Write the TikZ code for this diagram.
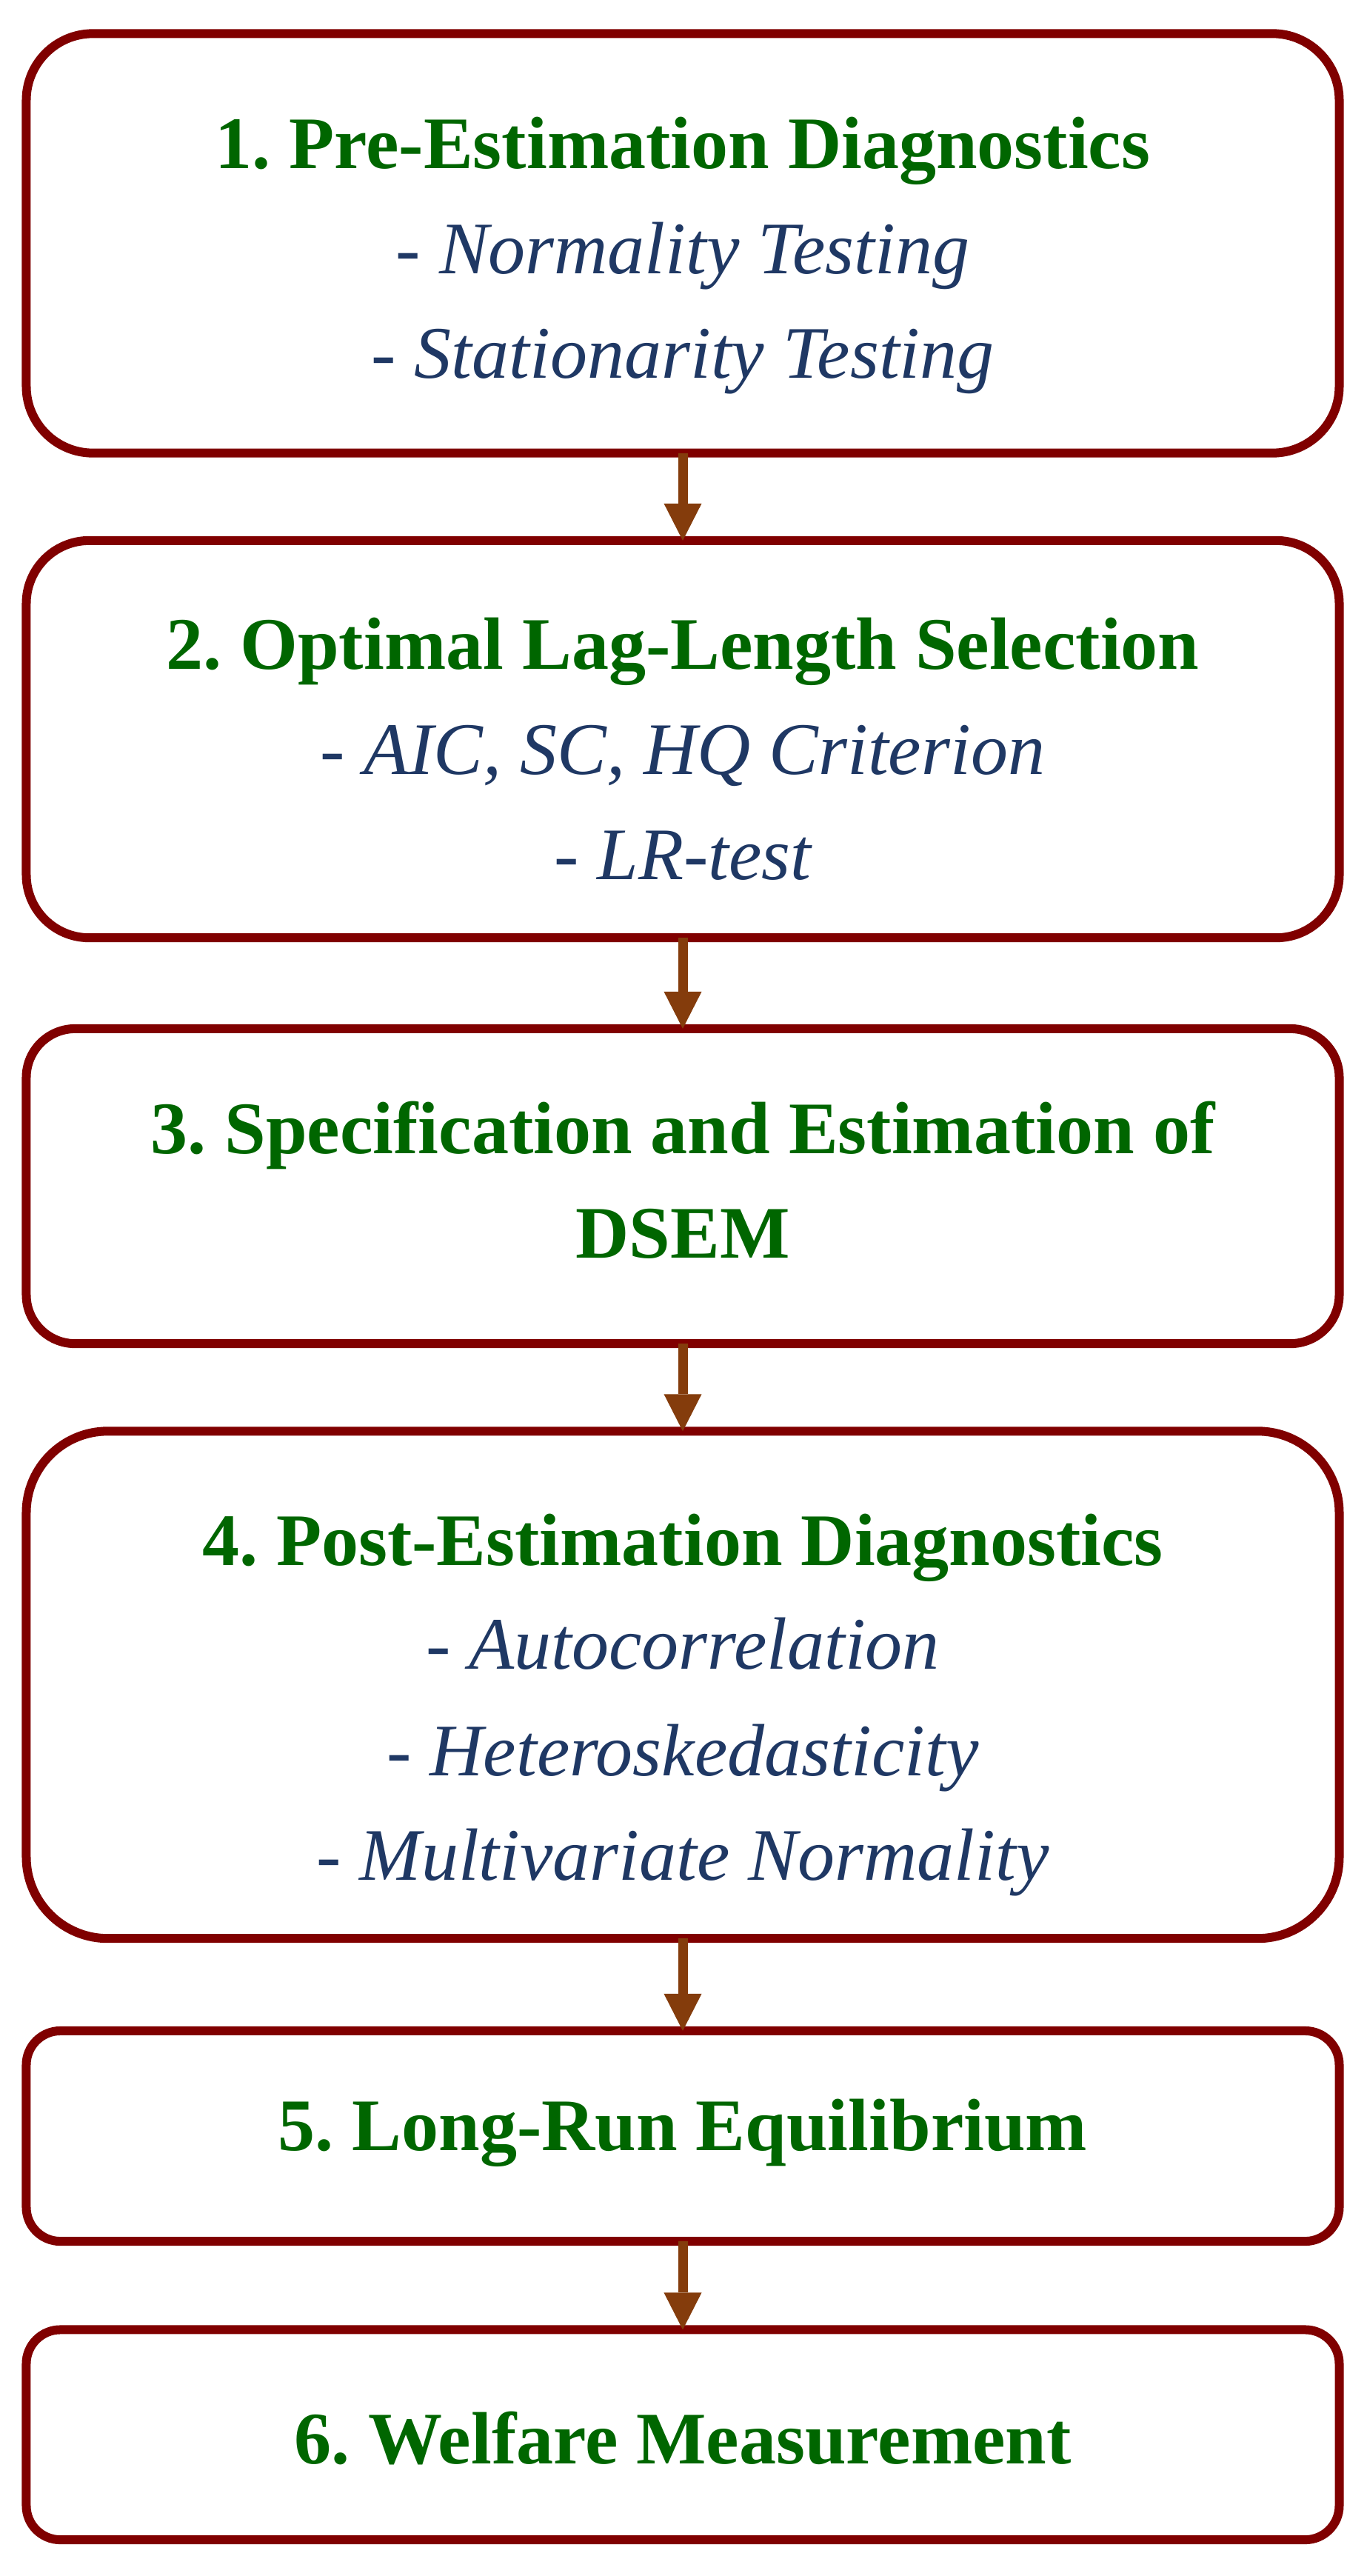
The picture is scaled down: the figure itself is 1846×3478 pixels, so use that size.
\documentclass[tikz,border=0pt]{standalone}
\usepackage{fontspec}
\setmainfont{Liberation Serif}
\usetikzlibrary{arrows.meta}
\definecolor{boxred}{RGB}{128,0,0}
\definecolor{headgreen}{RGB}{0,102,0}
\definecolor{itemblue}{RGB}{31,56,100}
\definecolor{arrowbrown}{RGB}{132,60,12}
\frenchspacing
\begin{document}
\begin{tikzpicture}[x=0.01cm, y=0.01cm]
\tikzstyle{every node}+=[inner sep=0pt, outer sep=0pt]
\tikzstyle{stepbox}=[draw=boxred, line width=0.12cm, rectangle, minimum width=17.72cm]
\tikzstyle{head}=[anchor=base, text=headgreen, font=\fontsize{28.45pt}{40pt}\selectfont\bfseries]
\tikzstyle{item}=[anchor=base, text=itemblue, font=\fontsize{28.45pt}{40pt}\selectfont\itshape]
\tikzstyle{flow}=[draw=arrowbrown, line width=0.13cm, -{Triangle[length=0.5cm,width=0.51cm,line width=0pt]}]
\useasboundingbox (0,0) rectangle (1846,-3478);
\node [stepbox, minimum height=5.66cm, rounded corners=0.9cm] (b1) at (922,-328.5) {};
\draw (922,-227) node [head] (t1) {1. Pre-Estimation Diagnostics};
\draw (922,-369) node [item] (t1a) {- Normality Testing};
\draw (922,-510) node [item] (t1b) {- Stationarity Testing};
\node [stepbox, minimum height=5.36cm, rounded corners=0.85cm] (b2) at (922,-998) {};
\draw (922,-903) node [head] (t2) {2. Optimal Lag-Length Selection};
\draw (922,-1045) node [item] (t2a) {- AIC, SC, HQ Criterion};
\draw (922,-1187) node [item] (t2b) {- LR-test};
\node [stepbox, minimum height=4.25cm, rounded corners=0.66cm] (b3) at (922,-1601.5) {};
\draw (922,-1557) node [head] (t3) {3. Specification and Estimation of};
\draw (922,-1698) node [head] (t3a) {DSEM};
\node [stepbox, minimum height=6.845cm, rounded corners=1.1cm] (b4) at (922,-2274.75) {};
\draw (922,-2113) node [head] (t4) {4. Post-Estimation Diagnostics};
\draw (922,-2253) node [item] (t4a) {- Autocorrelation};
\draw (922,-2397) node [item] (t4b) {- Heteroskedasticity};
\draw (922,-2538) node [item] (t4c) {- Multivariate Normality};
\node [stepbox, minimum height=2.84cm, rounded corners=0.46cm] (b5) at (922,-2884) {};
\draw (922,-2903) node [head] (t5) {5. Long-Run Equilibrium};
\node [stepbox, minimum height=2.835cm, rounded corners=0.46cm] (b6) at (922,-3287.25) {};
\draw (922,-3326) node [head] (t6) {6. Welfare Measurement};
\draw [flow] (b1.south) -- (b2.north);
\draw [flow] (b2.south) -- (b3.north);
\draw [flow] (b3.south) -- (b4.north);
\draw [flow] (b4.south) -- (b5.north);
\draw [flow] (b5.south) -- (b6.north);
\end{tikzpicture}
\end{document}
